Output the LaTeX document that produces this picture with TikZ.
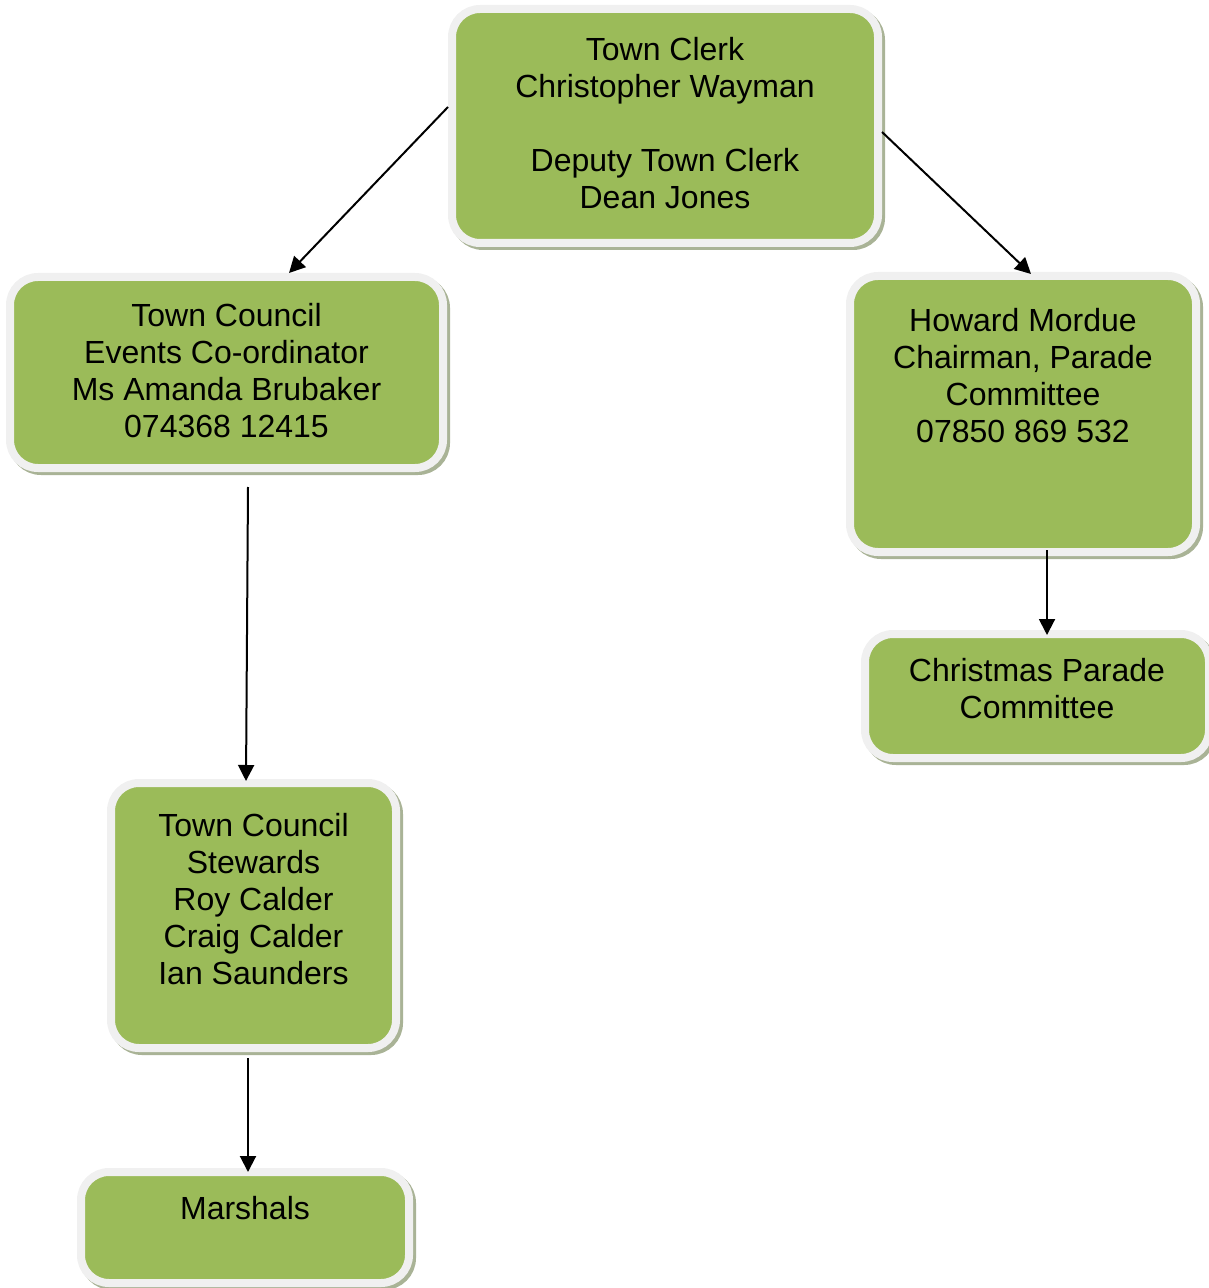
\documentclass[tikz,border=0pt]{standalone}
\usepackage{fontspec}
\setmainfont{Liberation Sans}
\usetikzlibrary{arrows.meta, shadows}

\definecolor{unitgreen}{HTML}{9BBB59}
\definecolor{unitrim}{HTML}{F0F0F0}
\definecolor{unitshadow}{HTML}{A9B396}

% text of a box, kept at its top
\newcommand{\unittext}[4]{\parbox[c][#2][t]{#1}{\centering\vspace*{#3}\strut #4\par}}

\begin{document}
\begin{tikzpicture}[x=0.5pt, y=-0.5pt, >={Triangle[length=8pt,width=8pt]},
  unit/.style={draw=unitrim, line width=4pt, fill=unitgreen, rounded corners=14pt,
    inner sep=0pt, font=\fontsize{16}{18.5}\selectfont,
    drop shadow={shadow xshift=1.5pt, shadow yshift=-1.5pt, draw=unitshadow,
      fill=unitshadow, line width=4pt, opacity=1}},
  link/.style={->, line width=1pt}]
  \useasboundingbox (0,0) rectangle (1208,1288);

  \node[unit] (clerk) at (665,126) {\unittext{213pt}{117pt}{13pt}{Town Clerk\\Christopher Wayman\\[18.5pt]Deputy Town Clerk\\Dean Jones}};
  \node[unit] (events) at (226.5,372.5) {\unittext{216.5pt}{95.5pt}{12pt}{Town Council\\Events Co-ordinator\\Ms Amanda Brubaker\\074368 12415}};
  \node[unit] (howard) at (1023,414) {\unittext{173pt}{138pt}{15pt}{Howard Mordue\\Chairman, Parade\\Committee\\07850 869 532}};
  \node[unit] (parade) at (1037,696) {\unittext{172pt}{62pt}{11pt}{Christmas Parade\\Committee}};
  \node[unit] (stewards) at (253.5,915.5) {\unittext{142.5pt}{132.5pt}{14pt}{Town Council\\Stewards\\Roy Calder\\Craig Calder\\Ian Saunders}};
  \node[unit] (marshals) at (245,1227.5) {\unittext{164pt}{55.5pt}{11pt}{Marshals}};

  \path[link] ([yshift=9.5pt]clerk.west) edge ([xshift=31.25pt, yshift=0pt]events.north)
        ([yshift=-3pt]clerk.east) edge ([xshift=4pt, yshift=-1pt]howard.north)
        ([xshift=10.75pt, yshift=-7.5pt]events.south) edge ([xshift=-3.75pt, yshift=-1pt]stewards.north)
        ([xshift=12pt, yshift=3pt]howard.south) edge ([xshift=5pt, yshift=-2.5pt]parade.north)
        ([xshift=-2.75pt, yshift=-3pt]stewards.south) edge ([xshift=1.5pt, yshift=-2pt]marshals.north);
\end{tikzpicture}
\end{document}
